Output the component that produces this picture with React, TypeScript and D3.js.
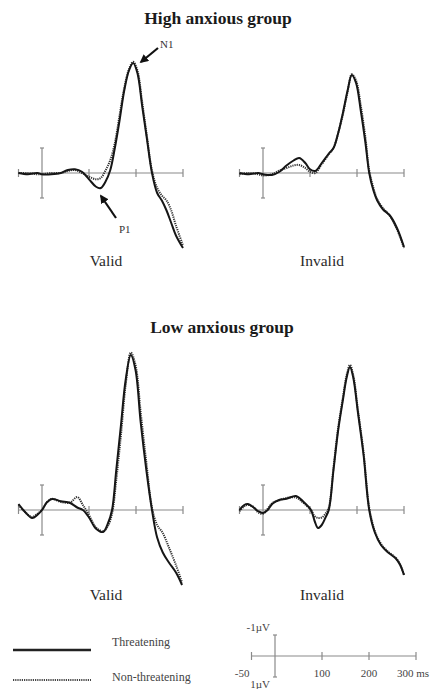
import React, { useEffect, useRef } from 'react';
import * as d3 from 'd3';

// ERP waveforms (µV, negative up)
const hvTime = [-50, -30, -10, 0, 20, 40, 55, 70, 85, 100, 115, 125, 135, 145, 155, 165, 175, 185, 194, 203, 213, 223, 234, 245, 255, 265, 275, 285, 300];
const hvThreat = [0, 0.05, 0, 0.05, 0.05, 0, -0.12, -0.15, -0.05, 0.25, 0.55, 0.6, 0.35, -0.1, -1.0, -2.1, -3.3, -4.1, -4.4, -4.0, -2.7, -1.4, 0, 0.8, 1.1, 1.5, 2.0, 2.5, 3.0];
const hvNeutral = [0, 0, 0.05, 0.05, 0, 0, -0.08, -0.12, 0, 0.15, 0.25, 0.2, -0.1, -0.5, -1.2, -2.3, -3.4, -4.15, -4.45, -4.1, -2.85, -1.5, -0.1, 0.6, 0.9, 1.1, 1.5, 2.1, 2.9];

const hiTime = [-50, -30, -10, 0, 19, 35, 50, 65, 77, 90, 100, 111, 125, 140, 150, 160, 170, 180, 189, 198, 208, 218, 226, 235, 243, 255, 270, 285, 300];
const hiThreat = [0, 0.05, 0, 0.05, 0.08, -0.05, -0.3, -0.5, -0.6, -0.4, -0.15, -0.08, -0.4, -0.78, -1.0, -1.6, -2.4, -3.3, -3.92, -3.6, -2.5, -1.2, 0, 0.7, 1.1, 1.45, 1.7, 2.2, 2.96];
const hiNeutral = [0.05, 0, 0.05, 0.1, 0.05, -0.1, -0.2, -0.3, -0.32, -0.2, -0.05, 0, -0.35, -0.75, -1.0, -1.6, -2.35, -3.25, -3.95, -3.7, -2.7, -1.4, -0.1, 0.6, 1.05, 1.4, 1.72, 2.25, 3.0];

const lvTime = [-50, -35, -21, -10, 0, 10, 21, 40, 60, 75, 87, 100, 115, 130, 140, 149, 158, 168, 178, 189, 199, 210, 222, 234, 245, 257, 270, 285, 298];
const lvThreat = [-0.24, 0.1, 0.32, 0.2, 0, -0.3, -0.44, -0.35, -0.28, -0.1, 0, 0.3, 0.75, 0.88, 0.55, 0, -1.6, -3.4, -5.2, -6.2, -5.6, -3.5, -1.6, 0, 1.1, 1.7, 2.1, 2.5, 3.0];
const lvNeutral = [-0.2, 0.1, 0.28, 0.15, 0, -0.3, -0.45, -0.32, -0.3, -0.52, -0.2, 0.2, 0.7, 0.85, 0.65, 0.15, -1.2, -3.0, -5.0, -6.3, -5.8, -3.9, -1.9, -0.1, 0.6, 0.92, 1.5, 2.2, 2.9];

const liTime = [-50, -40, -32, -20, -10, 0, 10, 20, 34, 50, 70, 85, 102, 110, 117, 125, 133, 140, 150, 160, 170, 178, 185, 192, 202, 214, 226, 238, 251, 265, 283, 292, 300];
const liThreat = [0, -0.2, -0.24, -0.1, 0.05, 0.12, 0, -0.25, -0.4, -0.45, -0.56, -0.35, 0, 0.45, 0.72, 0.6, 0.3, 0, -1.6, -3.2, -4.4, -5.3, -5.72, -5.3, -3.9, -2.2, 0, 0.9, 1.4, 1.68, 1.95, 2.2, 2.6];
const liNeutral = [0.05, -0.15, -0.2, -0.12, 0.1, 0.15, -0.05, -0.28, -0.38, -0.48, -0.5, -0.3, 0, 0.25, 0.32, 0.3, 0.15, -0.1, -1.7, -3.3, -4.5, -5.4, -5.8, -5.4, -4.0, -2.3, -0.1, 0.85, 1.35, 1.65, 1.92, 2.2, 2.6];

const groupTitles = ['High anxious group', 'Low anxious group'];
const conditionLabels = ['Valid', 'Invalid'];
const legendLabels = ['Threatening', 'Non-threatening'];
const timeTicks = [-50, 100, 200, 300];
const timeTickLabels = ['-50', '100', '200', '300 ms'];

const App = () => {
  const ref = useRef<SVGSVGElement>(null);

  useEffect(() => {
    document.body.style.margin = '0';
    const svg = d3.select(ref.current);
    svg.selectAll('*').remove();

    const font = '"Liberation Serif", "Times New Roman", serif';
    const pxPerMs = 0.47;
    const pxPerUv = 25;

    const panels = [
      { x0: 42, base: 173, time: hvTime, threat: hvThreat, neutral: hvNeutral },
      { x0: 263, base: 173, time: hiTime, threat: hiThreat, neutral: hiNeutral },
      { x0: 42, base: 510, time: lvTime, threat: lvThreat, neutral: lvNeutral },
      { x0: 263, base: 510, time: liTime, threat: liThreat, neutral: liNeutral },
    ];

    // draws the cross-shaped axis (time line + 0 ms voltage bar)
    const drawAxis = (g, x, y, uvRange) => {
      g.append('line')
        .attr('x1', x(-50)).attr('x2', x(300))
        .attr('y1', y(0)).attr('y2', y(0))
        .attr('stroke', '#8a8a8a').attr('stroke-width', 1.2);
      timeTicks.forEach(t => {
        g.append('line')
          .attr('x1', x(t)).attr('x2', x(t))
          .attr('y1', y(0) - 4).attr('y2', y(0) + 4)
          .attr('stroke', '#8a8a8a').attr('stroke-width', 1.2);
      });
      g.append('line')
        .attr('x1', x(0)).attr('x2', x(0))
        .attr('y1', y(-uvRange)).attr('y2', y(uvRange))
        .attr('stroke', '#8a8a8a').attr('stroke-width', 1.2);
      [-uvRange, uvRange].forEach(v => {
        g.append('line')
          .attr('x1', x(0) - 2).attr('x2', x(0) + 2)
          .attr('y1', y(v)).attr('y2', y(v))
          .attr('stroke', '#8a8a8a').attr('stroke-width', 1.2);
      });
    };

    panels.forEach(p => {
      const x = d3.scaleLinear().domain([-50, 300]).range([p.x0 - 50 * pxPerMs, p.x0 + 300 * pxPerMs]);
      const y = d3.scaleLinear().domain([-1, 1]).range([p.base - pxPerUv, p.base + pxPerUv]);
      const g = svg.append('g');
      drawAxis(g, x, y, 1);

      const line = d3.line<number>()
        .x((d, i) => x(p.time[i]))
        .y(d => y(d))
        .curve(d3.curveCatmullRom.alpha(0.5));

      g.append('path')
        .attr('d', line(p.neutral))
        .attr('fill', 'none')
        .attr('stroke', '#333')
        .attr('stroke-width', 2)
        .attr('stroke-dasharray', '1.2 1');
      g.append('path')
        .attr('d', line(p.threat))
        .attr('fill', 'none')
        .attr('stroke', '#161616')
        .attr('stroke-width', 2);
    });

    // titles and condition labels
    groupTitles.forEach((t, i) => {
      svg.append('text')
        .attr('x', [218, 222][i]).attr('y', [24, 333][i])
        .attr('text-anchor', 'middle')
        .attr('font-family', font).attr('font-weight', 'bold').attr('font-size', 17.5)
        .attr('fill', '#1a1a1a')
        .text(t);
      conditionLabels.forEach((c, j) => {
        svg.append('text')
          .attr('x', [106, 322][j]).attr('y', [266, 600][i])
          .attr('text-anchor', 'middle')
          .attr('font-family', font).attr('font-size', 15.5)
          .attr('fill', '#2a2a2a')
          .text(c);
      });
    });

    // N1 / P1 arrows
    svg.append('defs').append('marker')
      .attr('id', 'head')
      .attr('viewBox', '0 0 10 10')
      .attr('refX', 8).attr('refY', 5)
      .attr('markerWidth', 4).attr('markerHeight', 4)
      .attr('orient', 'auto')
      .append('path').attr('d', 'M0,0 L10,5 L0,10 Z').attr('fill', '#111');

    const arrows = [
      { x1: 158, y1: 48, x2: 141, y2: 62, label: 'N1', lx: 160, ly: 48 },
      { x1: 116, y1: 218, x2: 101, y2: 196, label: 'P1', lx: 119, ly: 233 },
    ];
    arrows.forEach(a => {
      svg.append('line')
        .attr('x1', a.x1).attr('y1', a.y1).attr('x2', a.x2).attr('y2', a.y2)
        .attr('stroke', '#111').attr('stroke-width', 2.2)
        .attr('marker-end', 'url(#head)');
      svg.append('text')
        .attr('x', a.lx).attr('y', a.ly)
        .attr('font-family', font).attr('font-size', 11)
        .attr('fill', '#333')
        .text(a.label);
    });

    // legend
    const legend = svg.append('g');
    legendLabels.forEach((l, i) => {
      legend.append('line')
        .attr('x1', 13).attr('x2', 91)
        .attr('y1', [650, 680][i]).attr('y2', [650, 680][i])
        .attr('stroke', i === 0 ? '#222' : '#444')
        .attr('stroke-width', i === 0 ? 2.4 : 1.8)
        .attr('stroke-dasharray', i === 0 ? null : '1.2 1');
      legend.append('text')
        .attr('x', 112).attr('y', [646, 681][i])
        .attr('font-family', font).attr('font-size', 12)
        .attr('fill', '#444')
        .text(l);
    });

    // calibration cross
    const sx = d3.scaleLinear().domain([-50, 300]).range([275 - 50 * pxPerMs, 275 + 300 * pxPerMs]);
    const sy = d3.scaleLinear().domain([-1, 1]).range([635, 677]);
    const scaleG = svg.append('g');
    drawAxis(scaleG, sx, sy, 1);
    timeTicks.forEach((t, i) => {
      scaleG.append('text')
        .attr('x', i === 0 ? sx(t) - 2 : i === 3 ? sx(t) - 19 : sx(t))
        .attr('y', 677)
        .attr('text-anchor', i === 0 ? 'end' : i === 3 ? 'start' : 'middle')
        .attr('font-family', font).attr('font-size', 11)
        .attr('fill', '#444')
        .text(timeTickLabels[i]);
    });
    scaleG.append('text')
      .attr('x', sx(0) - 5).attr('y', 631)
      .attr('text-anchor', 'end')
      .attr('font-family', font).attr('font-size', 11).attr('fill', '#444')
      .text('-1µV');
    scaleG.append('text')
      .attr('x', sx(0) - 5).attr('y', 688)
      .attr('text-anchor', 'end')
      .attr('font-family', font).attr('font-size', 11).attr('fill', '#444')
      .text('1µV');
  }, []);

  return (
    <div className="canvas">
      <svg ref={ref} width={434} height={689} style={{ display: 'block', background: '#fff' }} />
    </div>
  );
};

export default App;
